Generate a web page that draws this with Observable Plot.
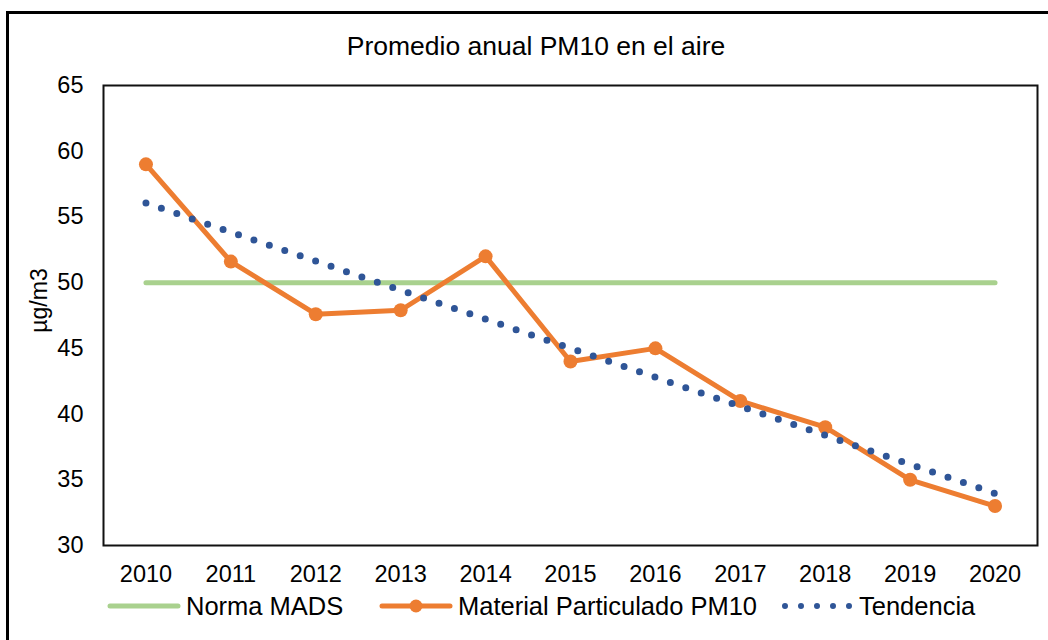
<!DOCTYPE html>
<html>
<head>
<meta charset="utf-8">
<script src="https://cdn.jsdelivr.net/npm/d3@7"></script>
<script src="https://cdn.jsdelivr.net/npm/@observablehq/plot@0.6"></script>
<style>
  html, body { margin: 0; padding: 0; background: #fff; }
  #wrap { position: relative; width: 1048px; height: 640px; overflow: hidden; font-family: "Liberation Sans", Arial, sans-serif; }
  #border { position: absolute; left: 6px; top: 11px; width: 1100px; height: 700px; border: 3px solid #000; box-sizing: border-box; }
  #title { position: absolute; left: 0; width: 1072px; top: 31px; text-align: center; font-size: 26.5px; color: #000; }
  #chart { position: absolute; left: 0; top: 0; }
  #legend { position: absolute; top: 592px; left: 0; width: 1048px; height: 28px; font-size: 25.5px; color: #000; }
  .item { position: absolute; top: 0; display: flex; align-items: center; height: 28px; }
  .item svg { display: block; margin-right: 4px; }
</style>
</head>
<body>
<div id="wrap">
  <div id="border"></div>
  <div id="chart"></div>
  <div id="title">Promedio anual PM10 en el aire</div>
  <div id="legend"></div>
</div>
<script>
const years = [2010, 2011, 2012, 2013, 2014, 2015, 2016, 2017, 2018, 2019, 2020];
const pm10 = [59, 51.6, 47.6, 47.9, 52, 44, 45, 41, 39, 35, 33];
const normaMADS = [50, 50, 50, 50, 50, 50, 50, 50, 50, 50, 50];
const yTicks = [30, 35, 40, 45, 50, 55, 60, 65];
const yLabel = "µg/m3";
const seriesNames = ["Norma MADS", "Material Particulado PM10", "Tendencia"];
const colors = ["#A9D18E", "#ED7D31", "#2F5597"];

const pmData = years.map((y, i) => ({year: y, value: pm10[i]}));
const normaData = years.map((y, i) => ({year: y, value: normaMADS[i]}));

const chart = Plot.plot({
  width: 1048,
  height: 590,
  marginLeft: 103,
  marginRight: 11,
  marginTop: 85,
  marginBottom: 45,
  style: {fontFamily: "'Liberation Sans', Arial, sans-serif", fontSize: "23.5px", color: "#000", background: "transparent"},
  x: {domain: [2009.5, 2020.5], ticks: years, tickFormat: "d", tickSize: 0, tickPadding: 20, label: null},
  y: {domain: [30, 65], ticks: yTicks, tickSize: 0, tickPadding: 20, label: null},
  marks: [
    Plot.line(normaData, {x: "year", y: "value", stroke: colors[0], strokeWidth: 5, strokeLinecap: "round"}),
    Plot.line(pmData, {x: "year", y: "value", stroke: colors[1], strokeWidth: 5, strokeLinejoin: "round"}),
    Plot.dot(pmData, {x: "year", y: "value", r: 7, fill: colors[1], stroke: "none"}),
    Plot.linearRegressionY(pmData, {x: "year", y: "value", ci: 0, stroke: colors[2], strokeWidth: 7, strokeDasharray: "0 16.3", strokeLinecap: "round"}),
    Plot.frame({stroke: "#111", strokeWidth: 2}),
    Plot.text([yLabel], {frameAnchor: "left", dx: -64, dy: -15, rotate: -90, fontSize: 23, text: d => d, textAnchor: "middle"})
  ]
});
document.getElementById("chart").appendChild(chart);

// Legend
const legend = document.getElementById("legend");
const items = [
  {left: 106, name: seriesNames[0], kind: "line", color: colors[0]},
  {left: 378, name: seriesNames[1], kind: "marker", color: colors[1]},
  {left: 779, name: seriesNames[2], kind: "dots", color: colors[2]}
];
items.forEach(it => {
  const div = document.createElement("div");
  div.className = "item";
  div.style.left = it.left + "px";
  let sw = "";
  if (it.kind === "line") {
    sw = `<svg width="76" height="28"><line x1="4" y1="14" x2="72" y2="14" stroke="${it.color}" stroke-width="5" stroke-linecap="round"/></svg>`;
  } else if (it.kind === "marker") {
    sw = `<svg width="76" height="28"><line x1="4" y1="14" x2="72" y2="14" stroke="${it.color}" stroke-width="5" stroke-linecap="round"/><circle cx="38" cy="14" r="6.5" fill="${it.color}"/></svg>`;
  } else {
    sw = `<svg width="76" height="28"><line x1="6" y1="14" x2="72" y2="14" stroke="${it.color}" stroke-width="6" stroke-dasharray="0 16" stroke-linecap="round"/></svg>`;
  }
  div.innerHTML = sw + `<span>${it.name}</span>`;
  legend.appendChild(div);
});
</script>
</body>
</html>
